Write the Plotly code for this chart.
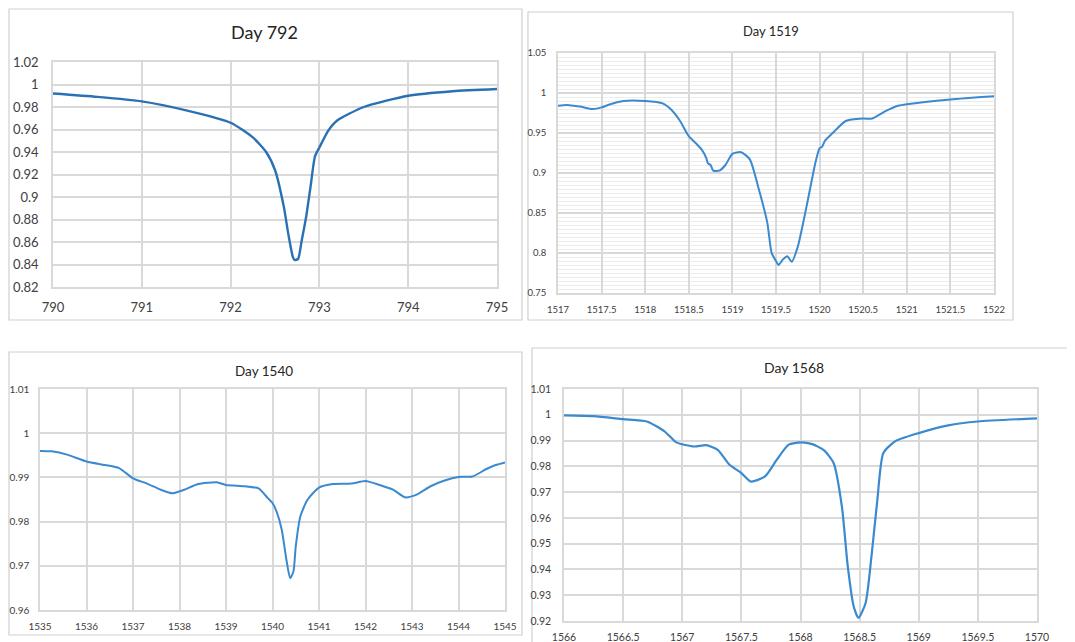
import plotly.graph_objects as go

# ---------------- data ----------------
day792_x = [790, 790.5, 791, 791.5, 792, 792.25, 792.4, 792.5, 792.6, 792.65, 792.7, 792.72,
            792.76, 792.8, 792.85, 792.9, 792.95, 793, 793.1, 793.2, 793.5, 794, 794.5, 795]
day792_y = [0.992, 0.989, 0.985, 0.977, 0.966, 0.953, 0.940, 0.924, 0.891, 0.867, 0.847, 0.844,
            0.845, 0.861, 0.882, 0.909, 0.936, 0.944, 0.959, 0.968, 0.980, 0.990, 0.994, 0.996]

day1519_x = [1517, 1517.1, 1517.25, 1517.4, 1517.5, 1517.6, 1517.75, 1518, 1518.2, 1518.3, 1518.4,
             1518.5, 1518.6, 1518.65, 1518.7, 1518.72, 1518.75, 1518.78, 1518.85, 1518.92, 1519,
             1519.1, 1519.2, 1519.3, 1519.4, 1519.45, 1519.5, 1519.53, 1519.58, 1519.63, 1519.68,
             1519.75, 1519.85, 1519.95, 1520, 1520.03, 1520.06, 1520.15, 1520.3, 1520.5, 1520.6,
             1520.75, 1520.9, 1521, 1521.5, 1522]
day1519_y = [0.984, 0.985, 0.983, 0.980, 0.982, 0.986, 0.990, 0.990, 0.987, 0.979, 0.965,
             0.946, 0.935, 0.929, 0.919, 0.912, 0.910, 0.903, 0.903, 0.910, 0.924,
             0.926, 0.917, 0.881, 0.838, 0.800, 0.790, 0.785, 0.792, 0.796, 0.789,
             0.808, 0.858, 0.912, 0.931, 0.933, 0.940, 0.950, 0.965, 0.968, 0.968,
             0.977, 0.984, 0.986, 0.992, 0.996]

day1540_x = [1535, 1535.25, 1535.6, 1536, 1536.4, 1536.7, 1537, 1537.3, 1537.6, 1537.85, 1538.1,
             1538.4, 1538.8, 1539, 1539.4, 1539.7, 1539.9, 1540, 1540.1, 1540.2, 1540.3, 1540.38,
             1540.45, 1540.5, 1540.6, 1540.75, 1541, 1541.3, 1541.7, 1542, 1542.3, 1542.6,
             1542.85, 1543.1, 1543.4, 1543.7, 1544, 1544.3, 1544.6, 1544.8, 1545]
day1540_y = [0.9960, 0.9959, 0.9951, 0.9936, 0.9928, 0.9921, 0.9898, 0.9886, 0.9872, 0.9864, 0.9872,
             0.9885, 0.9889, 0.9883, 0.9880, 0.9875, 0.9853, 0.9842, 0.9819, 0.9781, 0.9713, 0.9672,
             0.9687, 0.9744, 0.9812, 0.9849, 0.9877, 0.9885, 0.9886, 0.9892, 0.9883, 0.9872,
             0.9855, 0.9861, 0.9880, 0.9893, 0.9901, 0.9902, 0.9919, 0.9928, 0.9934]

day1568_x = [1566, 1566.25, 1566.5, 1566.7, 1566.85, 1566.95, 1567.1, 1567.2, 1567.3, 1567.4, 1567.5,
             1567.58, 1567.7, 1567.8, 1567.9, 1568, 1568.1, 1568.2, 1568.28, 1568.35, 1568.4,
             1568.45, 1568.49, 1568.55, 1568.6, 1568.65, 1568.7, 1568.8, 1569, 1569.25, 1569.5, 1570]
day1568_y = [0.9998, 0.9995, 0.9983, 0.9974, 0.9936, 0.9893, 0.9877, 0.9882, 0.9864, 0.9806, 0.9774,
             0.9741, 0.9761, 0.9826, 0.9884, 0.9893, 0.9886, 0.9862, 0.9813, 0.9644, 0.9411,
             0.9256, 0.9212, 0.9269, 0.9450, 0.9670, 0.9851, 0.9897, 0.9929, 0.9959, 0.9974, 0.9986]

# tick labels
ticks792_x = [790, 791, 792, 793, 794, 795]
ticks792_y = [0.82, 0.84, 0.86, 0.88, 0.90, 0.92, 0.94, 0.96, 0.98, 1.00, 1.02]
labels792_y = ["0.82", "0.84", "0.86", "0.88", "0.9", "0.92", "0.94", "0.96", "0.98", "1", "1.02"]

ticks1519_x = [1517, 1517.5, 1518, 1518.5, 1519, 1519.5, 1520, 1520.5, 1521, 1521.5, 1522]
labels1519_x = ["1517", "1517.5", "1518", "1518.5", "1519", "1519.5", "1520", "1520.5", "1521", "1521.5", "1522"]
ticks1519_y = [0.75, 0.80, 0.85, 0.90, 0.95, 1.00, 1.05]
labels1519_y = ["0.75", "0.8", "0.85", "0.9", "0.95", "1", "1.05"]

ticks1540_x = [1535, 1536, 1537, 1538, 1539, 1540, 1541, 1542, 1543, 1544, 1545]
ticks1540_y = [0.96, 0.97, 0.98, 0.99, 1.00, 1.01]
labels1540_y = ["0.96", "0.97", "0.98", "0.99", "1", "1.01"]

ticks1568_x = [1566, 1566.5, 1567, 1567.5, 1568, 1568.5, 1569, 1569.5, 1570]
labels1568_x = ["1566", "1566.5", "1567", "1567.5", "1568", "1568.5", "1569", "1569.5", "1570"]
ticks1568_y = [0.92, 0.93, 0.94, 0.95, 0.96, 0.97, 0.98, 0.99, 1.00, 1.01]
labels1568_y = ["0.92", "0.93", "0.94", "0.95", "0.96", "0.97", "0.98", "0.99", "1", "1.01"]

titles = ["Day 792", "Day 1519", "Day 1540", "Day 1568"]

# ---------------- figure ----------------
W, H = 1075, 642
OFF = 8  # page body margin offset
FONT = "Lato, 'Open Sans', sans-serif"
GRID = "#d9d9d9"
TXT = "#404040"


def px_x(p):
    return (p - OFF) / W


def px_y(p):
    return 1 - (p - OFF) / H


fig = go.Figure()

panels = [
    dict(x=day792_x, y=day792_y, color="#2a71b3", width=2.4,
         xd=[53, 497], yd=[62, 287], xr=[790, 795], yr=[0.82, 1.02],
         xt=ticks792_x, xl=[str(v) for v in ticks792_x], yt=ticks792_y, yl=labels792_y,
         fs=13, xstand=8, ystand=10, minor=False),
    dict(x=day1519_x, y=day1519_y, color="#3b8ad0", width=2.0,
         xd=[558, 994], yd=[53, 293], xr=[1517, 1522], yr=[0.75, 1.05],
         xt=ticks1519_x, xl=labels1519_x, yt=ticks1519_y, yl=labels1519_y,
         fs=9.5, xstand=7, ystand=8, minor=True),
    dict(x=day1540_x, y=day1540_y, color="#3b8ad0", width=2.0,
         xd=[40, 505], yd=[389, 610], xr=[1535, 1545], yr=[0.96, 1.01],
         xt=ticks1540_x, xl=[str(v) for v in ticks1540_x], yt=ticks1540_y, yl=labels1540_y,
         fs=10, xstand=6, ystand=7, minor=False),
    dict(x=day1568_x, y=day1568_y, color="#3b8ad0", width=2.2,
         xd=[564, 1037], yd=[389, 621], xr=[1566, 1570], yr=[0.92, 1.01],
         xt=ticks1568_x, xl=labels1568_x, yt=ticks1568_y, yl=labels1568_y,
         fs=10.5, xstand=6, ystand=9, minor=False),
]

for i, p in enumerate(panels, start=1):
    sfx = "" if i == 1 else str(i)
    fig.add_trace(go.Scatter(
        x=p["x"], y=p["y"], mode="lines",
        line=dict(color=p["color"], width=p["width"], shape="spline", smoothing=0.6),
        xaxis="x" + sfx, yaxis="y" + sfx, showlegend=False, hoverinfo="x+y"))
    xa = dict(domain=[px_x(p["xd"][0]), px_x(p["xd"][1])], range=p["xr"],
              anchor="y" + sfx, tickvals=p["xt"], ticktext=p["xl"], automargin=False,
              showgrid=True, gridcolor=GRID, gridwidth=1.5, zeroline=False,
              showline=True, linecolor=GRID, linewidth=1.5, mirror=True,
              ticks="outside", ticklen=p["xstand"], tickcolor="rgba(0,0,0,0)",
              tickfont=dict(family=FONT, size=p["fs"], color=TXT), fixedrange=True)
    ya = dict(domain=[px_y(p["yd"][1]), px_y(p["yd"][0])], range=p["yr"],
              anchor="x" + sfx, tickvals=p["yt"], ticktext=p["yl"], automargin=False,
              showgrid=True, gridcolor=GRID, gridwidth=1.5, zeroline=False,
              showline=True, linecolor=GRID, linewidth=1.5, mirror=True,
              ticks="outside", ticklen=p["ystand"], tickcolor="rgba(0,0,0,0)",
              tickfont=dict(family=FONT, size=p["fs"], color=TXT), fixedrange=True)
    if p["minor"]:
        ya["minor"] = dict(dtick=0.005, showgrid=True, gridcolor="#ececec", gridwidth=1)
    fig.layout["xaxis" + sfx] = xa
    fig.layout["yaxis" + sfx] = ya

# panel frames (chart area borders)
frames = [(9, 9, 522, 320), (528, 12, 1013, 320), (9, 352, 522, 635), (532, 348, 1090, 660)]
for (x0, y0, x1, y1) in frames:
    fig.add_shape(type="rect", xref="paper", yref="paper",
                  x0=px_x(x0), x1=px_x(x1), y0=px_y(y1), y1=px_y(y0),
                  line=dict(color="#d0d0d0", width=1.2), layer="below")

# titles
title_pos = [(264, 32, 18), (771, 31, 13), (264, 371, 13.5), (794, 367, 14)]
for t, (tx, ty, ts) in zip(titles, title_pos):
    fig.add_annotation(text=t, x=px_x(tx), y=px_y(ty), xref="paper", yref="paper",
                       showarrow=False, xanchor="center", yanchor="middle",
                       font=dict(family=FONT, size=ts, color="#262626"))

fig.update_layout(width=W, height=H, margin=dict(l=0, r=0, t=0, b=0),
                  paper_bgcolor="white", plot_bgcolor="white", showlegend=False)

fig.write_html("out.html")
